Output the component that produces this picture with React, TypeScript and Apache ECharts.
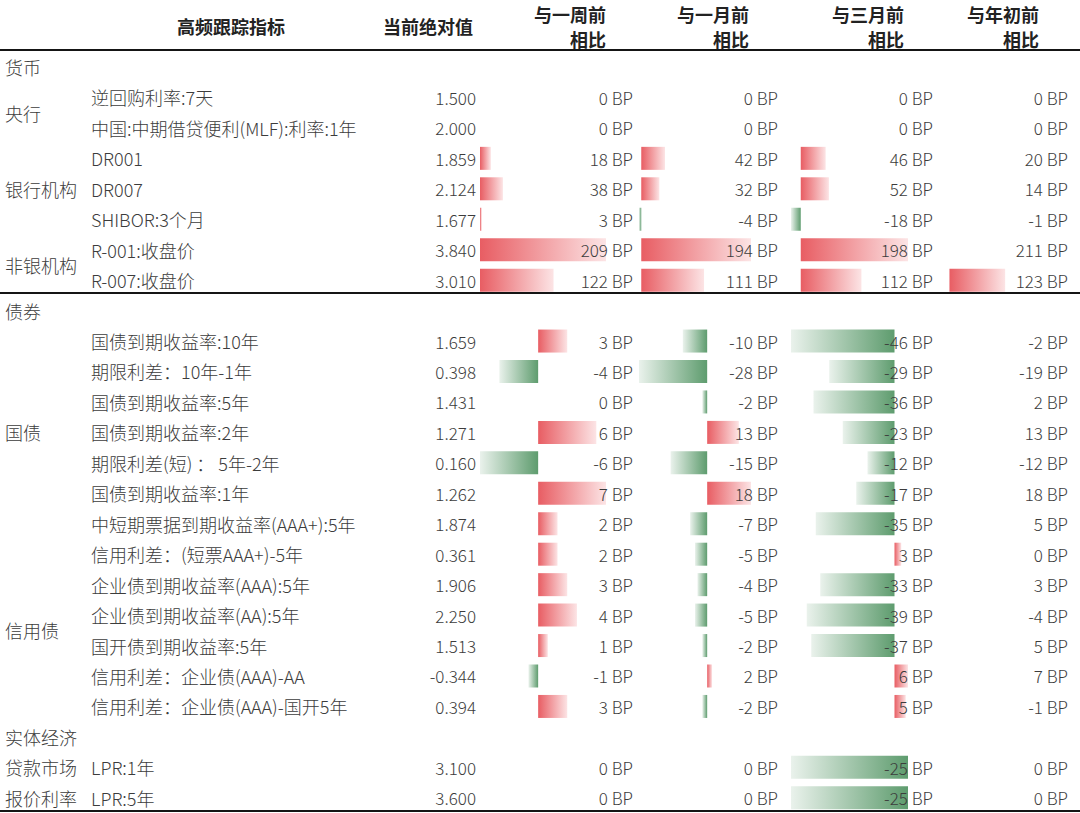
import React, { useEffect, useRef } from 'react';
import * as echarts from 'echarts';

// ---------- data ----------
const groupLabels = ['货币', '央行', '银行机构', '非银机构', '债券', '国债', '信用债', '实体经济', '贷款市场', '报价利率'];
// position of each group label, in half-rows from the first row
const groupHalfRows = [0, 3, 8, 13, 16, 24, 37, 44, 46, 48];

const indicators = [
  '', '逆回购利率:7天', '中国:中期借贷便利(MLF):利率:1年', 'DR001', 'DR007', 'SHIBOR:3个月', 'R-001:收盘价', 'R-007:收盘价',
  '', '国债到期收益率:10年', '期限利差：10年-1年', '国债到期收益率:5年', '国债到期收益率:2年', '期限利差(短) ： 5年-2年',
  '国债到期收益率:1年', '中短期票据到期收益率(AAA+):5年', '信用利差：(短票AAA+)-5年', '企业债到期收益率(AAA):5年',
  '企业债到期收益率(AA):5年', '国开债到期收益率:5年', '信用利差：企业债(AAA)-AA', '信用利差：企业债(AAA)-国开5年',
  '', 'LPR:1年', 'LPR:5年',
];
const currentValues = [
  null, 1.5, 2.0, 1.859, 2.124, 1.677, 3.84, 3.01,
  null, 1.659, 0.398, 1.431, 1.271, 0.16, 1.262, 1.874, 0.361, 1.906, 2.25, 1.513, -0.344, 0.394,
  null, 3.1, 3.6,
];
const vsWeek = [null, 0, 0, 18, 38, 3, 209, 122, null, 3, -4, 0, 6, -6, 7, 2, 2, 3, 4, 1, -1, 3, null, 0, 0];
const vsMonth = [null, 0, 0, 42, 32, -4, 194, 111, null, -10, -28, -2, 13, -15, 18, -7, -5, -4, -5, -2, 2, -2, null, 0, 0];
const vsThreeMonths = [null, 0, 0, 46, 52, -18, 198, 112, null, -46, -29, -36, -23, -12, -17, -35, 3, -33, -39, -37, 6, 5, null, -25, -25];
const vsYearStart = [null, 0, 0, 20, 14, -1, 211, 123, null, -2, -19, 2, 13, -12, 18, 5, 0, 3, -4, 5, 7, -1, null, 0, 0];

const columnTitles = [['与一周前', '相比'], ['与一月前', '相比'], ['与三月前', '相比'], ['与年初前', '相比']];
// row ranges (inclusive) of each section
const sections: [number, number][] = [[1, 7], [9, 21], [23, 24]];
// which sections carry data bars, per change column; and the rows with a bar in the year column
const barSections = [[0, 1], [0, 1, 2], [0, 1, 2], [0]];
const yearBarRows = [7];

// ---------- layout ----------
const ROW0 = 67;
const ROWH = 30.45;
const BAR_AREAS = [[480, 606], [639, 751], [791, 908], [949, 1045]];
const TEXT_RIGHT = [633, 778, 933, 1068];
const TITLE_RIGHT = [606, 749, 904, 1039];
const FONT = '"Noto Sans CJK SC", "Noto Sans", sans-serif';
const TEXT_COLOR = '#3c3c3c';

const redGrad = () =>
  new echarts.graphic.LinearGradient(0, 0, 1, 0, [
    { offset: 0, color: '#E85D63' },
    { offset: 1, color: '#FCE4E5' },
  ]);
const greenGrad = () =>
  new echarts.graphic.LinearGradient(0, 0, 1, 0, [
    { offset: 0, color: '#EAF2EC' },
    { offset: 1, color: '#5E9C6E' },
  ]);

function buildOption() {
  const grid: any[] = [];
  const xAxis: any[] = [];
  const yAxis: any[] = [];
  const series: any[] = [];
  const allRows = indicators.map((_, i) => 'r' + i);

  const hiddenX = (gi: number, extra: any = {}) => ({
    type: 'value', gridIndex: gi, show: false, ...extra,
  });

  // text column helper: category axis labels aligned on an edge
  const addTextColumn = (edge: number, side: 'left' | 'right', texts: string[], opts: any = {}) => {
    const gi = grid.length;
    const top = opts.top ?? ROW0 - ROWH / 2;
    const height = opts.height ?? indicators.length * ROWH;
    grid.push({ left: side === 'left' ? edge : edge - 1, width: 1, top, height });
    xAxis.push(hiddenX(gi));
    yAxis.push({
      type: 'category', gridIndex: gi, inverse: true, position: side, z: 10,
      data: opts.ids ?? allRows,
      axisLine: { show: false }, axisTick: { show: false }, splitLine: { show: false },
      axisLabel: {
        interval: 0, margin: 0, fontSize: opts.fontSize ?? 17, fontWeight: 300,
        fontFamily: FONT, color: TEXT_COLOR,
        formatter: (_: any, idx: number) => texts[idx] ?? '',
      },
    });
  };

  // group label column (half-row resolution)
  const halfCount = (indicators.length - 1) * 2 + 1;
  const groupTexts: string[] = Array.from({ length: halfCount }, () => '');
  groupHalfRows.forEach((h, i) => { groupTexts[h] = groupLabels[i]; });
  addTextColumn(5, 'right', groupTexts, {
    top: ROW0 - ROWH / 4,
    height: halfCount * (ROWH / 2),
    ids: groupTexts.map((_, i) => 'h' + i),
    fontSize: 18,
  });
  // indicator names
  addTextColumn(91, 'right', indicators, { fontSize: 18 });
  // current values
  addTextColumn(476, 'left', currentValues.map((v) => (v == null ? '' : v.toFixed(3))));

  const changeCols = [vsWeek, vsMonth, vsThreeMonths, vsYearStart];
  changeCols.forEach((vals, c) => {
    addTextColumn(TEXT_RIGHT[c], 'left', vals.map((v) => (v == null ? '' : `${v} BP`)));
  });

  // data bars
  changeCols.forEach((vals, c) => {
    barSections[c].forEach((s) => {
      const [r0, r1] = sections[s];
      const rows: number[] = [];
      for (let r = r0; r <= r1; r++) rows.push(r);
      const sv = rows.map((r) => vals[r] as number);
      const min = Math.min(0, ...sv);
      const max = Math.max(0, ...sv);
      const gi = grid.length;
      grid.push({
        left: BAR_AREAS[c][0],
        width: BAR_AREAS[c][1] - BAR_AREAS[c][0],
        top: ROW0 + (r0 - 0.5) * ROWH,
        height: rows.length * ROWH,
      });
      xAxis.push(hiddenX(gi, { min, max }));
      yAxis.push({
        type: 'category', gridIndex: gi, inverse: true, show: false,
        data: rows.map((r) => 'r' + r),
      });
      series.push({
        type: 'bar', xAxisIndex: gi, yAxisIndex: gi, barWidth: 23, silent: true, z: 1,
        data: rows.map((r) => {
          const v = vals[r] as number;
          if (c === 3 && !yearBarRows.includes(r)) return '-';
          return { value: v, itemStyle: { color: v >= 0 ? redGrad() : greenGrad() } };
        }),
      });
    });
  });

  const headerFont = { fontSize: 18, fontWeight: 'bold', fontFamily: FONT, fill: '#222' };
  const graphic: any[] = [
    { type: 'text', x: 231, y: 26, style: { text: '高频跟踪指标', align: 'center', verticalAlign: 'middle', ...headerFont } },
    { type: 'text', x: 428, y: 26, style: { text: '当前绝对值', align: 'center', verticalAlign: 'middle', ...headerFont } },
  ];
  columnTitles.forEach((t, c) => {
    graphic.push({ type: 'text', x: TITLE_RIGHT[c], y: 14, style: { text: t[0], align: 'right', verticalAlign: 'middle', ...headerFont } });
    graphic.push({ type: 'text', x: TITLE_RIGHT[c], y: 39, style: { text: t[1], align: 'right', verticalAlign: 'middle', ...headerFont } });
  });
  [50, 293, 811].forEach((y) => {
    graphic.push({ type: 'line', shape: { x1: 0, y1: y, x2: 1080, y2: y }, style: { stroke: '#151515', lineWidth: 2 } });
  });

  return { animation: false, backgroundColor: '#ffffff', grid, xAxis, yAxis, series, graphic };
}

export default function App() {
  const ref = useRef<HTMLDivElement>(null);
  useEffect(() => {
    document.body.style.margin = '0';
    if (!ref.current) return;
    const chart = echarts.init(ref.current, undefined, { renderer: 'svg' });
    chart.setOption(buildOption());
    return () => chart.dispose();
  }, []);
  return <div ref={ref} style={{ width: 1080, height: 813 }} />;
}
